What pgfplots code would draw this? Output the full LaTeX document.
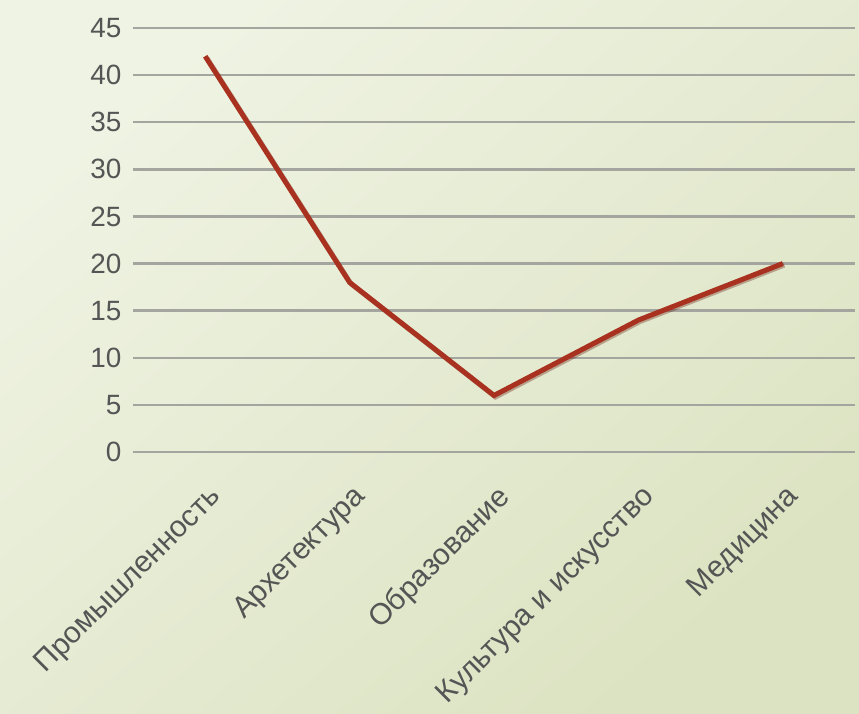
\documentclass[border=0pt]{standalone}
\usepackage{pgfplots}
\pgfplotsset{compat=1.18}
\usepackage{fontspec}
\setmainfont{Liberation Sans}
\definecolor{bgA}{HTML}{EFF3E3}
\definecolor{bgB}{HTML}{DCE3C2}
\definecolor{lineC}{HTML}{A8321F}
\definecolor{gridC}{HTML}{A3A59E}
\definecolor{txtC}{HTML}{555555}
\begin{document}
\begin{tikzpicture}[x=1bp,y=1bp]
\shade[top color=bgA, bottom color=bgB, shading angle=40] (0,0) rectangle (859,714);
\begin{axis}[
  at={(133bp,262bp)}, anchor=south west,
  scale only axis, width=722bp, height=424bp,
  xmin=-0.5, xmax=4.5, ymin=0, ymax=45,
  axis line style={draw=none},
  xtick=data,
  xticklabels={Промышленность, Архетектура, Образование, Культура и искусство, Медицина},
  ytick={0,5,...,45},
  ymajorgrids,
  grid style={gridC, line width=2.4bp},
  major tick length=0pt,
  tick label style={text=txtC},
  yticklabel style={font=\fontsize{28}{30}\selectfont, xshift=-8bp},
  /pgf/number format/assume math mode=true,
  xticklabel style={font=\fontsize{30}{32}\selectfont, xshift=2bp, yshift=-31bp, rotate=45, anchor=north east, inner sep=0pt},
  clip=false,
]
\addplot[lineC!60!black, opacity=0.35, line width=5bp, shift={(1.5bp,-1.5bp)}] coordinates {(0,42) (1,18) (2,6) (3,14) (4,20)};
\addplot[lineC, line width=5bp] coordinates {(0,42) (1,18) (2,6) (3,14) (4,20)};
\end{axis}
\pgfresetboundingbox
\path (0,0) rectangle (859,714);
\end{tikzpicture}
\end{document}
